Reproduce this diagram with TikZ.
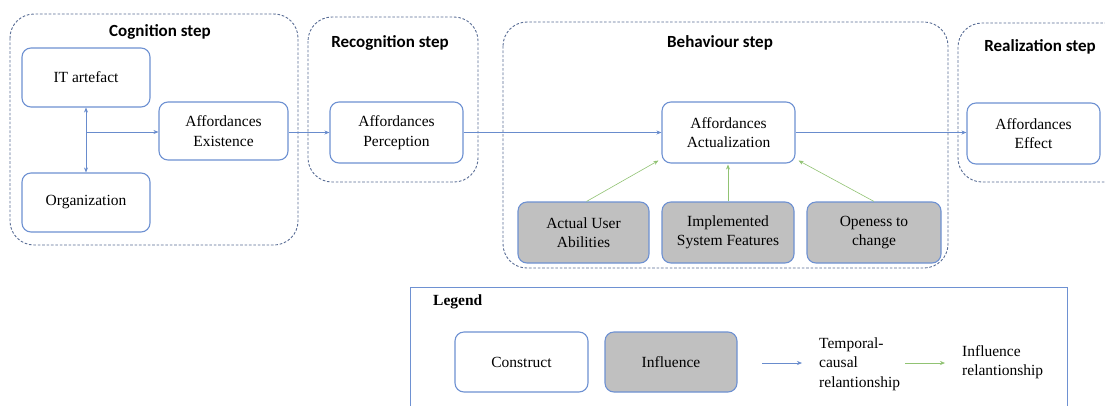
\documentclass[tikz,border=0pt]{standalone}
\usepackage{fontspec}
\setmainfont{Liberation Serif}
\newfontfamily\titlefont{Carlito}
\usetikzlibrary{arrows.meta}
\definecolor{boxblue}{RGB}{110,145,210}
\definecolor{grpblue}{RGB}{90,110,150}
\definecolor{arrblue}{RGB}{105,140,205}
\definecolor{arrgreen}{RGB}{145,195,115}
\definecolor{infgray}{RGB}{192,192,192}
\tikzset{
  construct/.style={draw=boxblue, line width=1.1pt, rounded corners=9pt, fill=white,
    minimum width=#1, minimum height=60pt, align=center, inner sep=2pt,
    font=\fontsize{15.5}{19.5}\selectfont},
  construct/.default=132pt,
  influence/.style={construct=#1, fill=infgray},
  influence/.default=132pt,
  group/.style={draw=grpblue, line width=0.9pt, dash pattern=on 2.6pt off 1.8pt, rounded corners=24pt},
  grptitle/.style={font=\titlefont\bfseries\fontsize{17}{20}\selectfont},
  temporal/.style={draw=arrblue, line width=0.6pt, -{Stealth[length=5pt,width=4pt]}},
  infl/.style={draw=arrgreen, line width=0.6pt, -{Stealth[length=5pt,width=4pt]}},
  legtext/.style={align=left, anchor=west, inner sep=0pt, font=\fontsize{15.5}{19.5}\selectfont},
}
\begin{document}
\begin{tikzpicture}[x=1pt, y=-1pt]
\useasboundingbox (0,0) rectangle (1105,405);
\clip (0,0) rectangle (1105,405);
\fill[white] (0,0) rectangle (1105,405);
% groups
\draw[group] (10,14) rectangle (298,245);
\draw[group] (308,17) rectangle (478,182);
\draw[group] (503,22) rectangle (948,268);
\draw[group] (958,23) rectangle (1130,182);
\node[grptitle] (tcog) at (160,32) {Cognition step};
\node[grptitle] (trec) at (390,43) {Recognition step};
\node[grptitle] (tbeh) at (720,43) {Behaviour step};
\node[grptitle] (treal) at (1040,47) {Realization step};
% constructs
\node[construct=128pt, minimum height=59pt] (it) at (86,77.5) {IT artefact};
\node[construct=128pt, minimum height=59pt] (org) at (86,202.5) {Organization};
\node[construct=129pt, minimum height=58pt] (ex) at (223.5,131) {Affordances\\Existence};
\node[construct=133pt, minimum height=61pt] (per) at (396.5,132.5) {Affordances\\Perception};
\node[construct=133pt, minimum height=61pt] (act) at (728.5,132.5) {Affordances\\Actualization};
\node[construct=133pt, minimum height=61pt] (eff) at (1033.5,133.5) {Affordances\\Effect};
\node[influence=131pt, minimum height=61pt] (aua) at (583.5,232.5) {Actual User\\Abilities};
\node[influence=132pt, minimum height=61pt] (isf) at (728,232.5) {Implemented\\System Features};
\node[influence=134pt, minimum height=61pt] (otc) at (874,232.5) {Openess to\\change};
% connectors
\coordinate (j) at (86,132);
\draw[temporal, {Stealth[length=5pt,width=4pt]}-{Stealth[length=5pt,width=4pt]}] (it.south) -- (org.north);
\draw[temporal] (j) -- (ex.west |- j);
\draw[temporal] (ex.east |- per.west) -- (per.west);
\draw[temporal] (per.east) -- (act.west);
\draw[temporal] (act.east) -- (eff.west |- act.east);
\draw[infl] (aua.north) ++(3,0) coordinate (aun) (aun) -- ([shift={(-3,-3)}]act.south west);
\draw[infl] (isf.north) -- ([yshift=-1pt]isf.north |- act.south);
\draw[infl] (otc.north) -- ([shift={(3,-3)}]act.south east);
% legend
\draw[draw=boxblue, line width=0.9pt] (410,420) -- (410,287) -- (1067,287) -- (1067,420);
\node[anchor=west, inner sep=0pt, font=\bfseries\fontsize{15.5}{19}\selectfont] (leg) at (433,302) {Legend};
\node[construct=133pt, minimum height=60pt] (lcon) at (521.5,362) {Construct};
\node[influence=132pt, minimum height=60pt] (linf) at (671,362) {Influence};
\coordinate (lt1) at (762,363);
\coordinate (lt2) at (802,363);
\draw[temporal] (lt1) -- (lt2);
\node[legtext] (ltt) at (819,364) {Temporal-\\causal\\relantionship};
\coordinate (lg1) at (905,363);
\coordinate (lg2) at (945,363);
\draw[infl] (lg1) -- (lg2);
\node[legtext] (lgt) at (962,362) {Influence\\relantionship};
\end{tikzpicture}
\end{document}
